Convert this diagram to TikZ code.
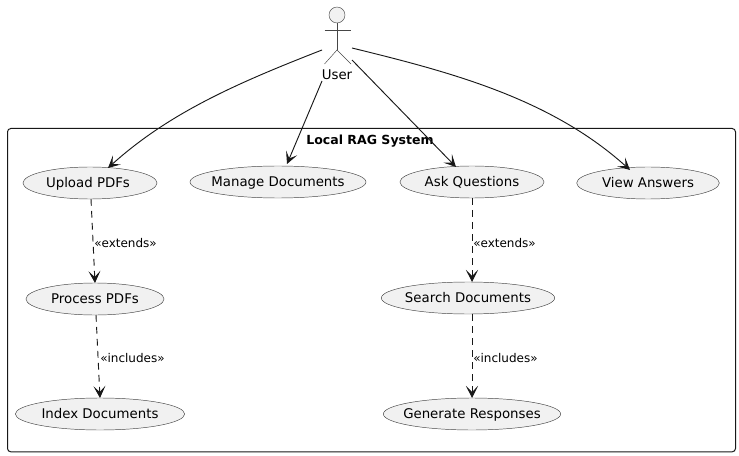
\documentclass[tikz,border=0pt]{standalone}
\usepackage{fontspec}
\setmainfont{DejaVu Sans}
\usetikzlibrary{arrows.meta,shapes.geometric}
\definecolor{ln}{HTML}{181818}
\definecolor{fl}{HTML}{F1F1F1}
\newcommand{\uctext}[1]{\smash{\raisebox{-3.7pt}{\makebox[0pt][c]{#1}}}}
\tikzset{
  x=0.75pt,y=-0.75pt,
  usecase/.style={ellipse,draw=ln!80,line width=0.35pt,fill=fl,inner sep=0pt,outer sep=0pt,font=\fontsize{10}{12}\selectfont,text=black},
  tip/.style={-{Stealth[length=9pt,width=9pt,inset=4.5pt,color=ln]}},
  rel/.style={draw=ln,line width=0.7pt,tip},
  dep/.style={rel,dash pattern=on 5pt off 4pt},
  lab/.style={anchor=west,inner sep=0pt,font=\fontsize{9}{11}\selectfont,text=black},
  stick/.style={draw=ln!80,line width=0.35pt}
}
\begin{document}
\begin{tikzpicture}
\useasboundingbox (0,0) rectangle (739,456);
\node[draw=ln,line width=0.75pt,rounded corners=2.5pt,minimum width=546pt,minimum height=242.5pt,inner sep=0pt,anchor=north west] (frame) at (7,128) {};
\node[inner sep=0pt,font=\fontsize{9.4}{12}\selectfont\bfseries] (title) at (370,141) {Local RAG System};
\node[usecase,minimum width=100.5pt,minimum height=24pt] (upload) at (90,183) {\uctext{\hspace{-3pt}Upload PDFs}};
\node[usecase,minimum width=132pt,minimum height=24pt] (manage) at (278,182) {\uctext{Manage Documents}};
\node[usecase,minimum width=108pt,minimum height=24pt] (ask) at (472,182) {\uctext{Ask Questions}};
\node[usecase,minimum width=107pt,minimum height=24pt] (view) at (648,183) {\uctext{View Answers}};
\node[usecase,minimum width=103.5pt,minimum height=24pt] (process) at (95,299) {\uctext{Process PDFs}};
\node[usecase,minimum width=127pt,minimum height=24pt] (index) at (100,414) {\uctext{Index Documents}};
\node[usecase,minimum width=130pt,minimum height=24pt] (search) at (468,298) {\uctext{Search Documents}};
\node[usecase,minimum width=133pt,minimum height=24pt] (generate) at (472,414) {\uctext{Generate Responses}};
% actor
\node[circle,draw=ln!80,line width=0.35pt,fill=fl,minimum size=12pt,inner sep=0pt] (head) at (337,15) {};
\coordinate (hip) at (337,50);
\coordinate (armL) at (324.5,30);
\coordinate (armR) at (351,30);
\coordinate (legL) at (324.5,64);
\coordinate (legR) at (351,64);
\draw[stick] (head.south) -- (hip);
\draw[stick] (armL) -- (armR);
\draw[stick] (legL) -- (hip) -- (legR);
\node[inner sep=0pt,font=\fontsize{10}{12}\selectfont] (user) at (337,74.5) {User};
% connectors
\coordinate (u1) at (322,50);
\coordinate (u2) at (322,81);
\coordinate (u3) at (352,60);
\coordinate (u4) at (352,48);
\coordinate (e1) at (108,168);
\coordinate (e2) at (287,164);
\coordinate (e3) at (456,167);
\coordinate (e4) at (630,170);
\draw[rel] (u1) .. controls (240,82) and (170,112) .. (e1);
\draw[rel] (u2) -- (e2);
\draw[rel] (u3) -- (e3);
\draw[rel] (u4) .. controls (450,72) and (550,98) .. (e4);
\draw[dep] (upload.south) ++(1,0) coordinate (d1) (d1) -- (process.north);
\draw[dep] (process.south) ++(1,0) coordinate (d2) (d2) -- (index.north);
\draw[dep] (ask.south) -- (ask.south |- search.north);
\draw[dep] (ask.south |- search.south) -- (generate.north);
\node[lab] (l1) at (94,243) {«extends»};
\node[lab] (l2) at (100,358) {«includes»};
\node[lab] (l3) at (473,243) {«extends»};
\node[lab] (l4) at (473,358) {«includes»};
\end{tikzpicture}
\end{document}
